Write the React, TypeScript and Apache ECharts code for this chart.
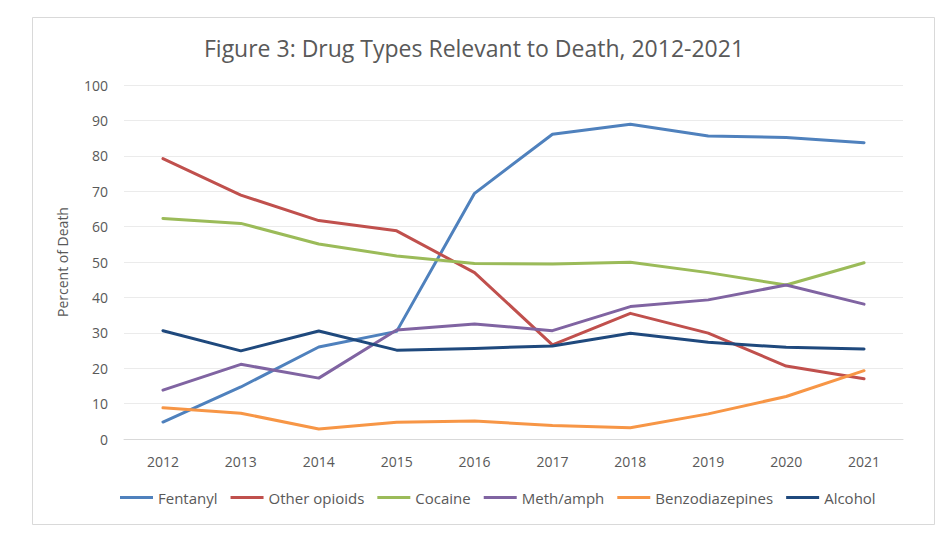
import React, { useEffect, useRef } from "react";
import * as echarts from "echarts";

const years = ["2012", "2013", "2014", "2015", "2016", "2017", "2018", "2019", "2020", "2021"];
const fentanyl = [4.8, 14.7, 26.0, 30.4, 69.4, 86.1, 88.9, 85.6, 85.2, 83.7];
const otherOpioids = [79.2, 68.9, 61.7, 58.8, 47.0, 26.6, 35.5, 29.9, 20.6, 17.0];
const cocaine = [62.3, 60.9, 55.1, 51.7, 49.6, 49.4, 49.9, 47.0, 43.5, 49.8];
const methAmph = [13.8, 21.1, 17.2, 30.8, 32.5, 30.6, 37.4, 39.3, 43.5, 38.1];
const benzodiazepines = [8.8, 7.3, 2.8, 4.7, 5.1, 3.8, 3.2, 7.1, 12.0, 19.3];
const alcohol = [30.6, 24.9, 30.5, 25.1, 25.6, 26.3, 29.9, 27.3, 25.9, 25.4];

const seriesDefs = [
  { name: "Fentanyl", data: fentanyl, color: "#4F81BD" },
  { name: "Other opioids", data: otherOpioids, color: "#C0504D" },
  { name: "Cocaine", data: cocaine, color: "#9BBB59" },
  { name: "Meth/amph", data: methAmph, color: "#8064A2" },
  { name: "Benzodiazepines", data: benzodiazepines, color: "#F79646" },
  { name: "Alcohol", data: alcohol, color: "#1F497D" },
];

const FONT = "'Open Sans', 'Noto Sans', sans-serif";
const TEXT = "#595959";

export default function App() {
  const ref = useRef<HTMLDivElement>(null);
  useEffect(() => {
    if (!ref.current) return;
    const chart = echarts.init(ref.current, null, { renderer: "svg" });
    chart.setOption({
      animation: false,
      backgroundColor: "#fff",
      textStyle: { fontFamily: FONT, color: TEXT },
      graphic: [
        {
          type: "rect",
          shape: { x: 32.5, y: 17.5, width: 902, height: 507 },
          style: { fill: "none", stroke: "#D9D9D9", lineWidth: 1 },
          silent: true,
        },
      ],
      title: {
        text: "Figure 3: Drug Types Relevant to Death, 2012-2021",
        left: "center",
        top: 31,
        textStyle: { fontFamily: FONT, fontSize: 23, fontWeight: "normal", color: TEXT },
      },
      legend: {
        bottom: 30,
        left: 115,
        icon: "rect",
        itemWidth: 33,
        itemHeight: 3,
        itemGap: 13,
        textStyle: { fontFamily: FONT, fontSize: 15, color: TEXT },
        data: seriesDefs.map((s) => s.name),
      },
      grid: { left: 124, right: 45, top: 85, bottom: 101, containLabel: false },
      xAxis: {
        type: "category",
        data: years,
        boundaryGap: true,
        axisLine: { lineStyle: { color: "#D9D9D9", width: 1 } },
        axisTick: { show: false },
        axisLabel: { fontFamily: FONT, fontSize: 14, color: TEXT, margin: 15 },
      },
      yAxis: {
        type: "value",
        min: 0,
        max: 100,
        interval: 10,
        name: "Percent of Death",
        nameLocation: "middle",
        nameGap: 55,
        nameTextStyle: { fontFamily: FONT, fontSize: 14, color: TEXT },
        axisLine: { show: false },
        axisTick: { show: false },
        axisLabel: { fontFamily: FONT, fontSize: 14, color: TEXT, margin: 16 },
        splitLine: { lineStyle: { color: "#EBEBEB", width: 1 } },
      },
      series: seriesDefs.map((s) => ({
        name: s.name,
        type: "line",
        data: s.data,
        showSymbol: false,
        symbol: "none",
        color: s.color,
        lineStyle: { color: s.color, width: 3, cap: "round", join: "round" },
      })),
    });
    return () => chart.dispose();
  }, []);
  return (
    <div
      ref={ref}
      style={{ position: "fixed", left: 0, top: 0, width: 948, height: 540 }}
    />
  );
}
